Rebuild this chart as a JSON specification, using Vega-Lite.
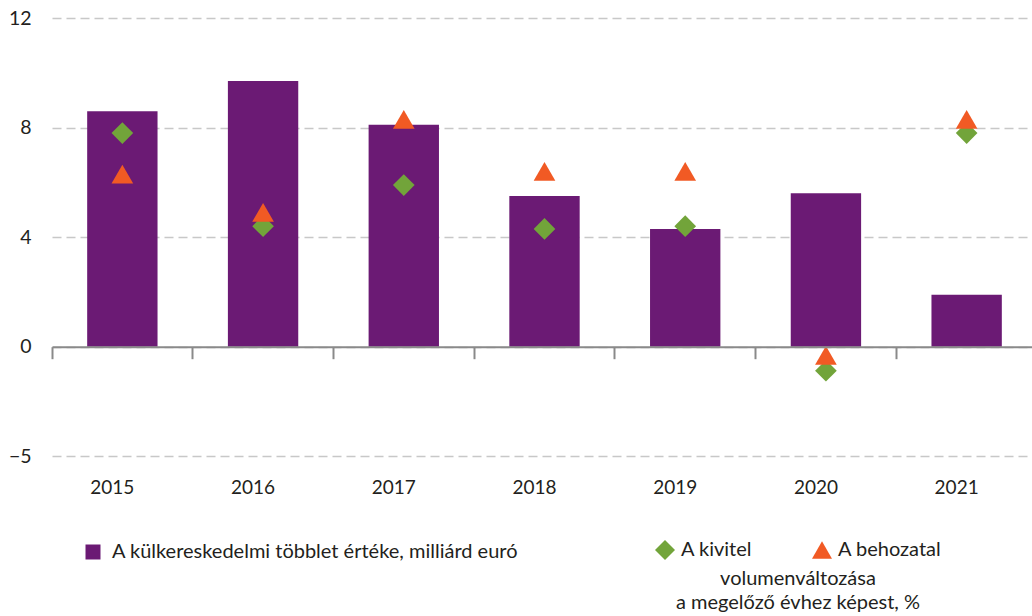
{
  "$schema": "https://vega.github.io/schema/vega-lite/v6.json",
  "width": 980,
  "height": 438,
  "autosize": {"type": "none"},
  "padding": {"left": 52, "top": 18, "right": 0, "bottom": 160},
  "background": "#ffffff",
  "config": {
    "view": {"stroke": null},
    "font": "Lato",
    "legend": {"labelFont": "Lato", "labelFontSize": 20, "labelColor": "#231f20", "titleFont": "Lato", "padding": 0, "labelLimit": 0, "titleLimit": 0}
  },
  "data": {
    "values": [
      {"year": "2015", "series": "A külkereskedelmi többlet értéke, milliárd euró", "kind": "bar", "value": 8.6},
      {"year": "2016", "series": "A külkereskedelmi többlet értéke, milliárd euró", "kind": "bar", "value": 9.7},
      {"year": "2017", "series": "A külkereskedelmi többlet értéke, milliárd euró", "kind": "bar", "value": 8.1},
      {"year": "2018", "series": "A külkereskedelmi többlet értéke, milliárd euró", "kind": "bar", "value": 5.5},
      {"year": "2019", "series": "A külkereskedelmi többlet értéke, milliárd euró", "kind": "bar", "value": 4.3},
      {"year": "2020", "series": "A külkereskedelmi többlet értéke, milliárd euró", "kind": "bar", "value": 5.6},
      {"year": "2021", "series": "A külkereskedelmi többlet értéke, milliárd euró", "kind": "bar", "value": 1.9},
      {"year": "2015", "series": "A kivitel", "kind": "point", "value": 7.8},
      {"year": "2016", "series": "A kivitel", "kind": "point", "value": 4.4},
      {"year": "2017", "series": "A kivitel", "kind": "point", "value": 5.9},
      {"year": "2018", "series": "A kivitel", "kind": "point", "value": 4.3},
      {"year": "2019", "series": "A kivitel", "kind": "point", "value": 4.4},
      {"year": "2020", "series": "A kivitel", "kind": "point", "value": -1.1},
      {"year": "2021", "series": "A kivitel", "kind": "point", "value": 7.8},
      {"year": "2015", "series": "A behozatal", "kind": "point", "value": 6.3},
      {"year": "2016", "series": "A behozatal", "kind": "point", "value": 4.9},
      {"year": "2017", "series": "A behozatal", "kind": "point", "value": 8.3},
      {"year": "2018", "series": "A behozatal", "kind": "point", "value": 6.4},
      {"year": "2019", "series": "A behozatal", "kind": "point", "value": 6.4},
      {"year": "2020", "series": "A behozatal", "kind": "point", "value": -0.4},
      {"year": "2021", "series": "A behozatal", "kind": "point", "value": 8.3}
    ]
  },
  "layer": [
    {
      "transform": [{"filter": "datum.kind === 'bar'"}],
      "mark": {"type": "bar", "width": {"band": 0.5}},
      "encoding": {
        "x": {
          "field": "year", "type": "ordinal",
          "scale": {"range": [0, 985], "paddingInner": 0, "paddingOuter": 0},
          "axis": {
            "orient": "bottom", "offset": -109.3, "title": null, "labels": false,
            "domain": true, "domainColor": "#8a8a8a", "domainWidth": 2,
            "ticks": true, "tickColor": "#8a8a8a", "tickWidth": 2, "tickSize": 12,
            "bandPosition": 0, "grid": false, "zindex": 1
          }
        },
        "y": {
          "field": "value", "type": "quantitative",
          "scale": {"domain": [-5, 0, 12], "range": [438, 328.7, 0], "nice": false, "zero": false},
          "axis": {
            "title": null, "values": [-5, 0, 4, 8, 12], "domain": false, "ticks": false,
            "labelFontSize": 19.5, "labelColor": "#231f20", "labelPadding": 21,
            "grid": true, "gridColor": "#c8c8c8", "gridDash": [9, 5], "gridWidth": 1.3
          }
        },
        "color": {
          "field": "series", "type": "nominal",
          "scale": {"domain": ["A külkereskedelmi többlet értéke, milliárd euró"], "range": ["#6b1a74"]},
          "legend": {
            "title": null, "orient": "none", "legendX": 31, "legendY": 524,
            "symbolType": "square", "symbolSize": 225, "symbolStrokeWidth": 0, "labelOffset": 9
          }
        }
      }
    },
    {
      "transform": [{"filter": "datum.kind === 'point'"}],
      "mark": {"type": "point", "filled": true, "size": 470, "opacity": 1},
      "encoding": {
        "x": {
          "field": "year", "type": "ordinal",
          "axis": {
            "orient": "bottom", "offset": 0, "title": null, "domain": false, "ticks": false, "tickSize": 0,
            "labelFontSize": 19, "labelColor": "#231f20", "labelPadding": 22, "labelOffset": -10,
            "labelAngle": 0, "grid": false
          }
        },
        "y": {"field": "value", "type": "quantitative"},
        "color": {
          "field": "series", "type": "nominal",
          "scale": {"domain": ["A kivitel", "A behozatal"], "range": ["#72a43a", "#f15a24"]},
          "legend": {
            "title": ["volumenváltozása", "a megelőző évhez képest, %"],
            "titleOrient": "bottom", "titleAnchor": "middle", "titleAlign": "center",
            "titleFontSize": 20, "titleFontWeight": "normal", "titleColor": "#231f20", "titleLineHeight": 24, "titlePadding": 9,
            "orient": "none", "legendX": 603, "legendY": 522, "direction": "horizontal",
            "symbolSize": 400, "symbolStrokeWidth": 0, "labelOffset": 6, "columnPadding": 59
          }
        },
        "shape": {
          "field": "series", "type": "nominal",
          "scale": {"domain": ["A kivitel", "A behozatal"], "range": ["diamond", "triangle-up"]},
          "legend": {
            "title": ["volumenváltozása", "a megelőző évhez képest, %"],
            "titleOrient": "bottom", "titleAnchor": "middle", "titleAlign": "center",
            "titleFontSize": 20, "titleFontWeight": "normal", "titleColor": "#231f20", "titleLineHeight": 24, "titlePadding": 9,
            "orient": "none", "legendX": 603, "legendY": 522, "direction": "horizontal",
            "symbolSize": 400, "symbolStrokeWidth": 0, "labelOffset": 6, "columnPadding": 59
          }
        }
      }
    }
  ],
  "resolve": {"scale": {"color": "independent", "shape": "independent"}, "axis": {"x": "independent"}}
}
